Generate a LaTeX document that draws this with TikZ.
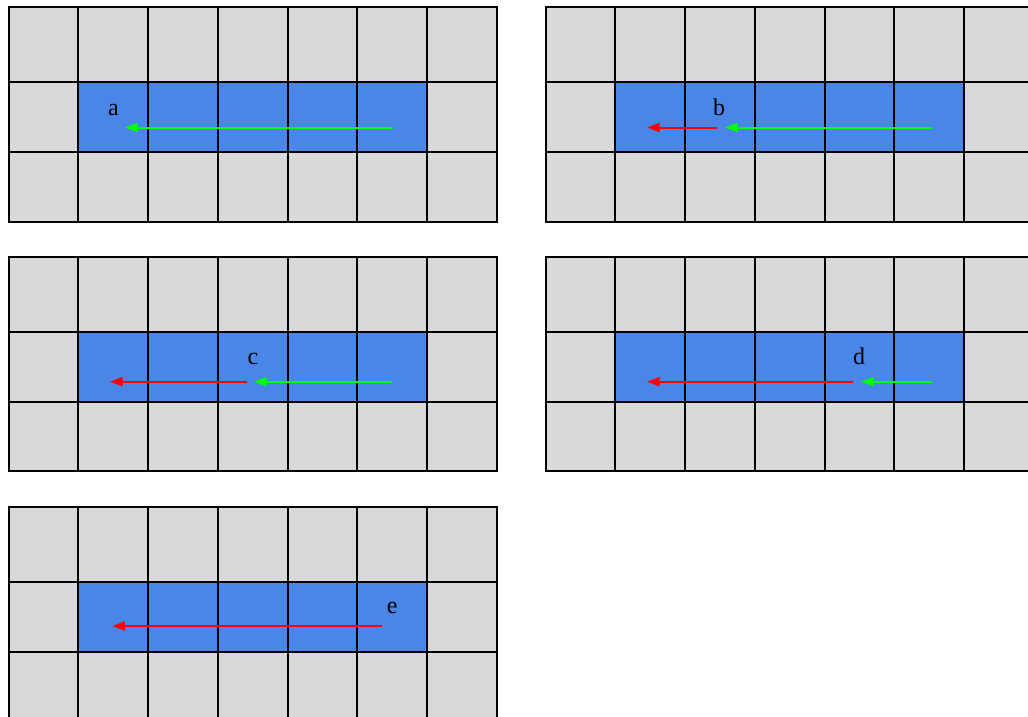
\documentclass[tikz,border=0pt]{standalone}
\usepackage{fontspec}
\setmainfont{Liberation Serif}
\usetikzlibrary{arrows.meta}
\definecolor{cellgray}{HTML}{D9D9D9}
\definecolor{cellblue}{HTML}{4A86E8}
\definecolor{arrgreen}{HTML}{00FF00}
\definecolor{arrred}{HTML}{FF0000}
\tikzset{
  gridline/.style={line width=2pt, black, line cap=rect},
  garrow/.style={line width=2pt, arrgreen, -{Triangle[length=12.5pt,width=9pt]}},
  rarrow/.style={line width=2pt, arrred, -{Triangle[length=12.5pt,width=9pt]}},
  lbl/.style={anchor=base, inner sep=0pt, font=\fontsize{24}{28}\selectfont}
}
\newcommand\gridpanel[2]{%
  \fill[cellgray] (#1,#2) rectangle ++(488.25,214.4);
  \fill[cellblue] (#1+69.75,#2+75) rectangle (#1+418.5,#2+145);
  \foreach \k in {1,...,6} \draw[gridline] (#1+69.75*\k,#2) -- ++(0,214.4);
  \foreach \r in {75,145} \draw[gridline] (#1,#2+\r) -- ++(488.25,0);
  \draw[gridline] (#1,#2) rectangle ++(488.25,214.4);
}
\begin{document}
\begin{tikzpicture}[x=1pt,y=-1pt]
\useasboundingbox (0,0) rectangle (1028,717);
\clip (0,0) rectangle (1028,717);
\gridpanel{8.5}{7.3}
\gridpanel{545.7}{7.3}
\gridpanel{8.5}{256.7}
\gridpanel{545.7}{256.7}
\gridpanel{8.5}{506.5}
% panel a
\coordinate (a-s) at (393,127.5); \coordinate (a-e) at (125,127.5);
\draw[garrow] (a-s) -- (a-e);
\node[lbl] (la) at (113.5,115.5) {a};
% panel b
\coordinate (bg-s) at (932,127.5); \coordinate (bg-e) at (725,127.5);
\coordinate (br-s) at (716.5,127.5); \coordinate (br-e) at (647,127.5);
\draw[garrow] (bg-s) -- (bg-e);
\draw[rarrow] (br-s) -- (br-e);
\node[lbl] (lb) at (719,115.5) {b};
% panel c
\coordinate (cg-s) at (391.7,381.7); \coordinate (cg-e) at (254,381.7);
\coordinate (cr-s) at (247,381.7); \coordinate (cr-e) at (110,381.7);
\draw[garrow] (cg-s) -- (cg-e);
\draw[rarrow] (cr-s) -- (cr-e);
\node[lbl] (lc) at (253,364.5) {c};
% panel d
\coordinate (dg-s) at (932.3,381.7); \coordinate (dg-e) at (861,381.7);
\coordinate (dr-s) at (853.3,381.7); \coordinate (dr-e) at (647,381.7);
\draw[garrow] (dg-s) -- (dg-e);
\draw[rarrow] (dr-s) -- (dr-e);
\node[lbl] (ld) at (859,364.8) {d};
% panel e
\coordinate (er-s) at (382.3,626); \coordinate (er-e) at (112.3,626);
\draw[rarrow] (er-s) -- (er-e);
\node[lbl] (le) at (392.3,613.8) {e};
\end{tikzpicture}
\end{document}
